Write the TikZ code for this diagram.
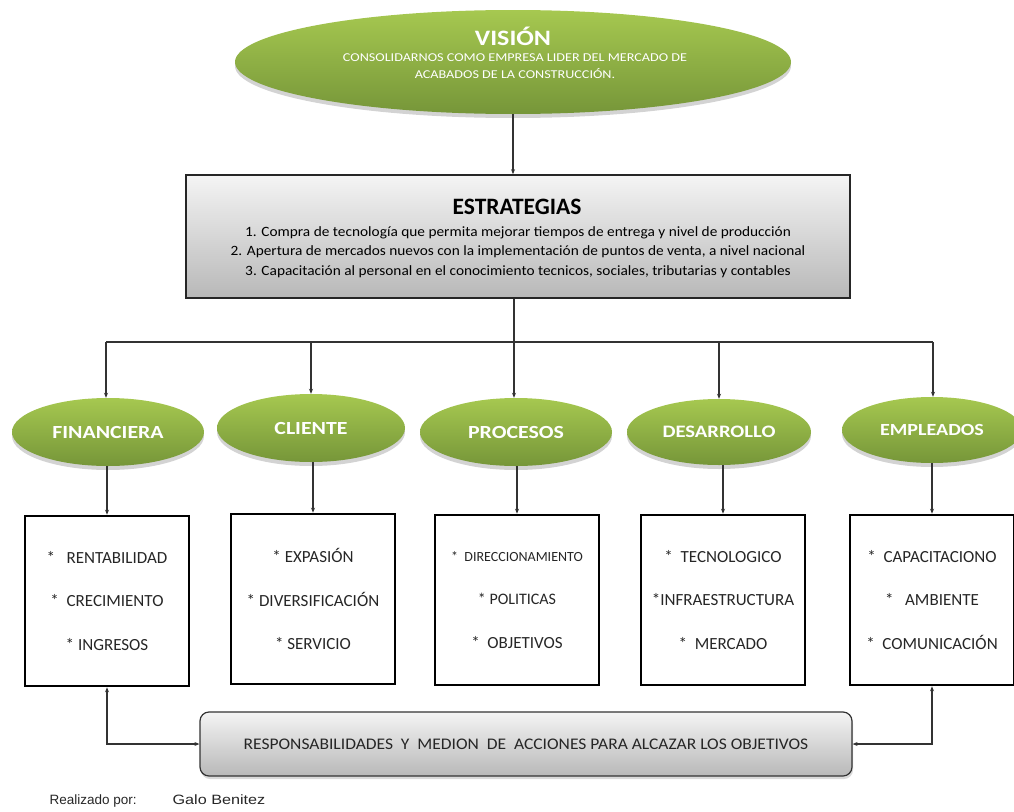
\documentclass[tikz,border=0pt]{standalone}
\usepackage{fontspec}
\setmainfont{Carlito}
\newfontfamily\widefont[FakeStretch=1.18]{Carlito}
\newfontfamily\semiwide[FakeStretch=1.08]{Carlito}
\newfontfamily\footfont{Liberation Sans}
\newfontfamily\footwide[FakeStretch=1.2]{Liberation Sans}
\usetikzlibrary{shapes.geometric,shadows,arrows.meta}
\definecolor{greenTop}{HTML}{A6C850}
\definecolor{greenBot}{HTML}{769639}
\definecolor{greyTop}{HTML}{F4F4F4}
\definecolor{greyBot}{HTML}{B8B8B8}
\tikzset{
  oval/.style={ellipse, inner sep=0pt, top color=greenTop, bottom color=greenBot,
    draw=none, drop shadow={opacity=0.35, shadow xshift=0pt, shadow yshift=-4pt}},
  ovaltext/.style={text=white, font=\widefont\bfseries\fontsize{18.5}{20}\selectfont},
  itembox/.style={draw=black, line width=2.6pt, minimum width=164pt, minimum height=170pt,
    inner sep=0pt, align=center, font=\fontsize{17}{43.5}\selectfont, text=black!85},
  conn/.style={draw=black!80, line width=1.1pt},
  arr/.style={conn, -{Stealth[length=5pt,width=4pt]}},
  darr/.style={conn, {Stealth[length=5pt,width=4pt]}-{Stealth[length=5pt,width=4pt]}}
}
\begin{document}
\begin{tikzpicture}[x=1pt,y=-1pt]
\useasboundingbox (0,0) rectangle (1014,811);

% Vision
\node[oval, minimum width=556pt, minimum height=104pt] (vision) at (513,62) {};
\node[text=white, font=\widefont\bfseries\fontsize{22}{24}\selectfont] (visiontitle) at (513,36) {VISIÓN};
\node[text=white, align=center, font=\widefont\fontsize{12}{16.5}\selectfont] (visiontxt) at (515,66)
  {CONSOLIDARNOS COMO EMPRESA LIDER DEL MERCADO DE\\ACABADOS DE LA CONSTRUCCIÓN.};

% Strategies
\node[draw=black!85, line width=1.6pt, top color=greyTop, bottom color=greyBot,
  minimum width=664pt, minimum height=123pt, inner sep=0pt] (estr) at (518,236.5) {};
\node[font=\bfseries\fontsize{23.5}{25}\selectfont] (estrtitle) at (517,207) {ESTRATEGIAS};
\node[align=center, font=\semiwide\fontsize{14.2}{19.5}\selectfont] (estrtxt) at (518,252)
  {1. Compra de tecnología que permita mejorar tiempos de entrega y nivel de producción\\
   2. Apertura de mercados nuevos con la implementación de puntos de venta, a nivel nacional\\
   3. Capacitación al personal en el conocimiento tecnicos, sociales, tributarias y contables};

\draw[arr] (vision.south) -- (estr.north -| vision.south);

% Perspectives
\node[oval, minimum width=192pt, minimum height=68pt] (fin) at (108,432) {};
\node[oval, minimum width=188pt, minimum height=68pt] (cli) at (311,428) {};
\node[oval, minimum width=192pt, minimum height=68pt] (pro) at (516,432) {};
\node[oval, minimum width=184pt, minimum height=66pt] (des) at (719,432) {};
\node[oval, minimum width=180pt, minimum height=66pt] (emp) at (932,430) {};
\node[ovaltext] at (fin) {FINANCIERA};
\node[ovaltext] at (cli) {CLIENTE};
\node[ovaltext] at (pro) {PROCESOS};
\node[ovaltext, font=\widefont\bfseries\fontsize{17.5}{19}\selectfont] at (des) {DESARROLLO};
\node[ovaltext, font=\widefont\bfseries\fontsize{17}{19}\selectfont] at (emp) {EMPLEADOS};

% Distribution bus
\coordinate (busL) at (106,342);
\coordinate (busR) at (933,342);
\coordinate (busM) at (514,342);
\draw[conn] (busL) -- (busR);
\draw[conn] (estr.south -| busM) -- (busM);
\draw[arr] (busL) -- (busL |- fin.north);
\draw[arr] (busM -| cli.north) -- (cli.north);
\draw[arr] (busM) -- (busM |- pro.north);
\draw[arr] (busM -| des.north) -- (des.north);
\draw[arr] (busR) -- (busR |- emp.north);

% Item boxes
\node[itembox] (b1) at (107,601) {*~~~RENTABILIDAD\\*~~CRECIMIENTO\\*~INGRESOS};
\node[itembox] (b2) at (313,599) {*~EXPASIÓN\\*~DIVERSIFICACIÓN\\*~SERVICIO};
\node[itembox] (b3) at (517,600) {\fontsize{14}{43.5}\selectfont *~~DIRECCIONAMIENTO\\\fontsize{16}{43.5}\selectfont *~POLITICAS\\*~~OBJETIVOS};
\node[itembox] (b4) at (723,600) {*~~TECNOLOGICO\\*INFRAESTRUCTURA\\*~~MERCADO};
\node[itembox] (b5) at (932,600) {*~~CAPACITACIONO\\*~~~AMBIENTE\\*~~COMUNICACIÓN};

\draw[arr] (fin.south -| b1.north) -- (b1.north);
\draw[arr] (cli.south -| b2.north) -- (b2.north);
\draw[arr] (pro.south -| b3.north) -- (b3.north);
\draw[arr] (des.south -| b4.north) -- (b4.north);
\draw[arr] (emp.south -| b5.north) -- (b5.north);

% Responsibilities
\node[draw=black!80, line width=1.2pt, rounded corners=9pt, top color=greyTop, bottom color=greyBot,
  minimum width=652pt, minimum height=64pt, inner sep=0pt,
  drop shadow={opacity=0.3, shadow xshift=1pt, shadow yshift=-3pt},
  font=\semiwide\fontsize{16.2}{17}\selectfont, text=black!85] (resp) at (526,744)
  {RESPONSABILIDADES~~Y~~MEDION~~DE~~ACCIONES PARA ALCAZAR LOS OBJETIVOS};

\draw[darr] (b1.south) |- (resp.west);
\draw[darr] (b5.south) |- (resp.east);

% Footer
\node[anchor=west, font=\footfont\fontsize{13.5}{15}\selectfont, text=black!85] (foot) at (46,801)
  {Realizado por:\hspace{36pt}{\footwide Galo Benitez}};
\end{tikzpicture}
\end{document}
